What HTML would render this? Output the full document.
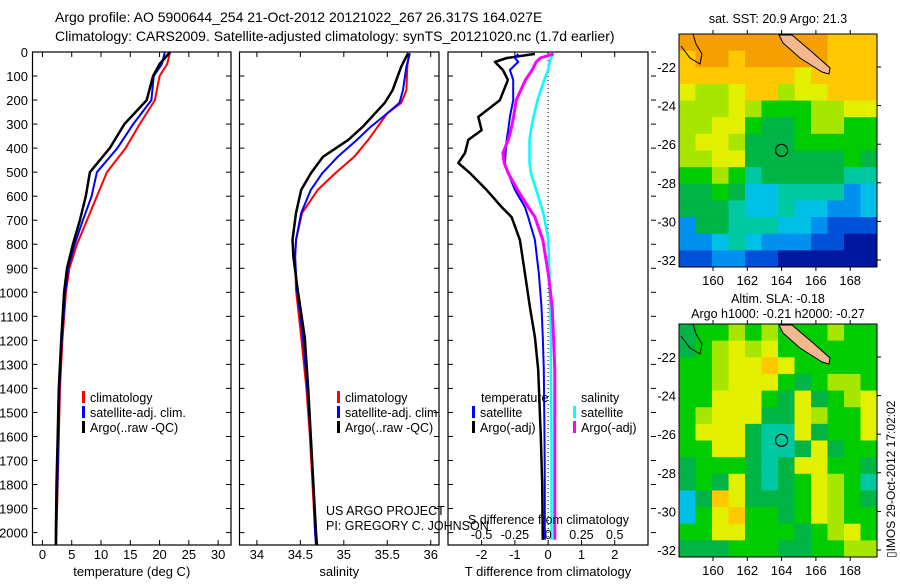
<!DOCTYPE html>
<html><head><meta charset="utf-8">
<style>
html,body{margin:0;padding:0;background:#fff;}
body{width:900px;height:580px;overflow:hidden;font-family:"Liberation Sans",sans-serif;}
svg text{font-family:"Liberation Sans",sans-serif;fill:#000;}
</style></head>
<body>
<svg id="chart" width="900" height="580" viewBox="0 0 900 580" xmlns="http://www.w3.org/2000/svg">
<text x="55" y="22" font-size="14">Argo profile: AO 5900644_254 21-Oct-2012 20121022_267 26.317S 164.027E</text>
<text x="55" y="41" font-size="14">Climatology: CARS2009. Satellite-adjusted climatology: synTS_20121020.nc (1.7d earlier)</text>
<g id="panels"></g>
<g id="maps"></g>
<text transform="translate(895,558) rotate(-90)" font-size="12">▯IMOS 29-Oct-2012 17:02:02</text>
</svg>
<script>
// ---------- data ----------
const depthTicks=[0,100,200,300,400,500,600,700,800,900,1000,1100,1200,1300,1400,1500,1600,1700,1800,1900,2000];
const tempTicks=[0,5,10,15,20,25,30];
const salTicks=[34,34.5,35,35.5,36];
const tdiffTicks=[-2,-1,0,1,2];
const sdiffTicks=[-0.5,-0.25,0,0.25,0.5];
const sdiffLabels=["-0.5","-0.25","0","0.25","0.5"];

const tDepth=[0,50,100,200,300,400,500,600,700,800,900,1000,1200,1400,1600,1800,2000,2050];
const tClim=[21.8,21.3,20.0,19.2,16.6,14.2,11.0,9.3,7.6,5.9,4.6,4.0,3.4,3.0,2.8,2.6,2.4,2.35];
const tSat=[20.9,20.4,19.0,18.6,15.5,12.8,9.3,8.4,6.9,5.5,4.4,3.9,3.3,2.9,2.75,2.55,2.35,2.3];
const tArgo=[21.8,20.0,18.9,17.8,14.0,11.5,8.1,7.4,6.4,5.2,4.2,3.7,3.2,2.8,2.6,2.4,2.3,2.3];

const sDepth=[5,61,160,212,255,311,366,436,505,574,670,782,853,990,1186,1400,1600,1800,2000,2050];
const sClim=[35.75,35.73,35.72,35.66,35.5,35.39,35.28,35.12,34.9,34.7,34.52,34.45,34.44,34.45,34.51,34.57,34.61,34.64,34.67,34.68];
const sSat=[35.76,35.72,35.68,35.64,35.5,35.31,35.15,34.93,34.75,34.62,34.51,34.45,34.44,34.46,34.53,34.58,34.62,34.65,34.67,34.68];
const sArgo=[35.74,35.66,35.56,35.47,35.36,35.22,35.05,34.76,34.62,34.51,34.45,34.41,34.42,34.47,34.55,34.59,34.62,34.65,34.68,34.69];

const dDepth=[8,25,41,75,116,200,270,325,366,420,462,504,574,645,687,782,920,1061,1186,1323,1600,1800,2030];
const dTArgo=[-0.4,-1.24,-1.6,-1.36,-1.21,-1.45,-2.1,-2.0,-2.4,-2.5,-2.7,-2.35,-1.85,-1.4,-1.1,-0.85,-0.7,-0.55,-0.4,-0.3,-0.22,-0.18,-0.16];
const dTSat=[-0.9,-1.0,-0.9,-1.15,-1.05,-1.05,-1.15,-1.2,-1.25,-1.28,-1.3,-1.2,-1.0,-0.7,-0.6,-0.4,-0.28,-0.2,-0.16,-0.13,-0.11,-0.1,-0.1];
const dSArgo=[0.04,-0.06,-0.09,-0.12,-0.17,-0.24,-0.26,-0.28,-0.30,-0.34,-0.33,-0.30,-0.23,-0.15,-0.1,-0.04,0.0,0.03,0.04,0.05,0.05,0.05,0.05];
const dSSat=[0.04,0.02,0.01,0.0,-0.03,-0.08,-0.11,-0.13,-0.14,-0.14,-0.14,-0.13,-0.09,-0.05,-0.03,0.0,0.01,0.015,0.02,0.02,0.025,0.025,0.025];

// map color grids (12 cols x 14 rows)
const sstGrid=["aaaaaaaaabbb","baabaaaaabbb","bbbbbbbcbbbb","cddcbbdccbbb","dddcdeeeddcc","ddcceffeddee","dccdfffeeeee","ddccffffffef","eedegfffffgg","ffefhhggggih","fffghhghhiih","iffggghhijjj","iihghiiijjkk","jjiijjkkkkkk"];
const slaGrid=["feededeeedee","fedcdceeeeee","eedccbceeeee","eedcccefedde","eecccefcfedc","edcccffcdeec","ecccfggcfeec","eeccfggfcfee","feeefgfcceef","fefcfgfecdeg","hfbcfffecdef","hecbeefecdee","eecceeefedce","fffeeeffeedd"];
const pal={a:"#f5a000",b:"#ffc800",c:"#e2f000",d:"#a6e600",e:"#00cc00",f:"#00b445",g:"#00c8a0",h:"#00c0e8",i:"#0090f0",j:"#0050d8",k:"#0018a0"};
const lonTicks=[160,162,164,166,168];
const latTicks=[22,24,26,28,30,32];

// ---------- helpers ----------
const NS="http://www.w3.org/2000/svg";
function mk(tag,attrs,parent){const e=document.createElementNS(NS,tag);for(const k in attrs)e.setAttribute(k,attrs[k]);parent.appendChild(e);return e;}
const Y0=52, YS=0.2403;
const yOf=d=>Y0+d*YS;
const panelsG=document.getElementById('panels');

function panel(name,x0,x1,xmin,xmax,xTicks,xLabels,xTitle,rightOut){
  const g=mk('g',{},panelsG);
  
  
  const fx=v=>x0+(v-xmin)/(xmax-xmin)*(x1-x0);
  const yB=545;
  const fr=mk('rect',{x:x0,y:Y0,width:x1-x0,height:yB-Y0,fill:'none',stroke:'#000','stroke-width':1.2},g);
  
  
  depthTicks.forEach(d=>{
    const y=yOf(d);
    mk('line',{x1:x0,x2:x0+5,y1:y,y2:y,stroke:'#000'},g);
    if(rightOut) mk('line',{x1:x1+3,x2:x1+8,y1:y,y2:y,stroke:'#000'},g);
    else mk('line',{x1:x1-5,x2:x1,y1:y,y2:y,stroke:'#000'},g);
  });
  xTicks.forEach((v,i)=>{
    const x=fx(v);
    mk('line',{x1:x,x2:x,y1:Y0,y2:Y0+5,stroke:'#000'},g);
    mk('line',{x1:x,x2:x,y1:yB-5,y2:yB,stroke:'#000'},g);
    const t=mk('text',{x:x,y:559,'font-size':13,'text-anchor':'middle'},g);
    t.textContent=xLabels[i];
    
    
  });
  const tt=mk('text',{x:(x0+x1)/2,y:576,'font-size':13,'text-anchor':'middle'},g);
  tt.textContent=xTitle;
  
  
  return {g,fx};
}
function series(p,name,depths,vals,color,w){
  const pts=depths.map((d,i)=>p.fx(vals[i]).toFixed(1)+','+yOf(d).toFixed(1)).join(' ');
  const l=mk('polyline',{points:pts,fill:'none',stroke:color,'stroke-width':w,'stroke-linejoin':'round'},p.g);
  
  
}
function legend(g,x,y,items,prefix){
  items.forEach((it,i)=>{
    const yy=y+i*15;
    if(it[1]){const r=mk('rect',{x:x,y:yy-6,width:3,height:12,fill:it[1]},g);
      
      }
    const t=mk('text',{x:x+(it[1]?8:0),y:yy+5,'font-size':12.5},g);
    t.textContent=it[0];
    
    
  });
}

// depth labels
depthTicks.forEach(d=>{
  const t=mk('text',{x:28,y:yOf(d)+5,'font-size':13,'text-anchor':'end'},panelsG);
  t.textContent=d;
  
  
});

// panel 1 temperature
const p1=panel('temperature-panel',32.5,231,-1.7,32.2,tempTicks,tempTicks.map(String),'temperature (deg C)',false);
series(p1,'temp-climatology-line',tDepth,tClim,'#ff0000',2);
series(p1,'temp-satellite-line',tDepth,tSat,'#0000ff',2);
series(p1,'temp-argo-line',tDepth,tArgo,'#000000',2.5);
legend(p1.g,82,397,[['climatology','#ff0000'],['satellite-adj. clim.','#0000ff'],['Argo(..raw -QC)','#000']],'temp');

// panel 2 salinity
const p2=panel('salinity-panel',239.5,439,33.8,36.095,salTicks,salTicks.map(String),'salinity',false);
series(p2,'sal-climatology-line',sDepth,sClim,'#ff0000',2);
series(p2,'sal-satellite-line',sDepth,sSat,'#0000ff',2);
series(p2,'sal-argo-line',sDepth,sArgo,'#000000',2.5);
legend(p2.g,337,397,[['climatology','#ff0000'],['satellite-adj. clim.','#0000ff'],['Argo(..raw -QC)','#000']],'sal');
const us=mk('text',{x:326,y:515,'font-size':12.5},p2.g);us.textContent='US ARGO PROJECT';


const pi=mk('text',{x:326,y:530,'font-size':12.5},p2.g);pi.textContent='PI: GREGORY C. JOHNSON';



// panel 3 differences
const p3=panel('difference-panel',448,648,-3.01,3.0,tdiffTicks,tdiffTicks.map(String),'T difference from climatology',true);
const zx=p3.fx(0);
mk('line',{x1:zx,x2:zx,y1:Y0,y2:545,stroke:'#000','stroke-dasharray':'1,3'},p3.g);
const fS=v=>v*4; // S diff shown on x4 scale
series(p3,'tdiff-argo-line',dDepth,dTArgo,'#000000',2.5);
series(p3,'tdiff-satellite-line',dDepth,dTSat,'#0000ff',2);
series(p3,'sdiff-satellite-line',dDepth,dSSat.map(fS),'#00ffff',2.5);
series(p3,'sdiff-argo-line',dDepth,dSArgo.map(fS),'#ff00ff',3);
legend(p3.g,481,397,[['temperature',null]],'tdiff');
legend(p3.g,472,412,[['satellite','#0000ff'],['Argo(-adj)','#000']],'tdiff');
legend(p3.g,581,397,[['salinity',null]],'sdiff');
legend(p3.g,573,412,[['satellite','#00ffff'],['Argo(-adj)','#ff00ff']],'sdiff');
const st=mk('text',{x:468,y:524,'font-size':12.5},p3.g);st.textContent='S difference from climatology';


sdiffTicks.forEach((v,i)=>{
  const t=mk('text',{x:p3.fx(fS(v)),y:539,'font-size':12.5,'text-anchor':'middle'},p3.g);
  t.textContent=sdiffLabels[i];
  
  
});

// ---------- maps ----------
const mapsG=document.getElementById('maps');
function drawMap(name,top,grid,title1,title2){
  const g=mk('g',{},mapsG);
  
  
  const x0=679,x1=877,y1=top+233;
  const lonX=l=>713+(l-160)/2*34.3;
  const latY=a=>top+33+(a-22)/2*38.6;
  const cols=grid[0].length, rows=grid.length;
  const cw=(x1-x0)/cols, ch=(y1-top)/rows;
  grid.forEach((row,r)=>{[...row].forEach((c,k)=>{
    const cell=mk('rect',{x:(x0+k*cw).toFixed(2),y:(top+r*ch).toFixed(2),width:(cw+0.5).toFixed(2),height:(ch+0.5).toFixed(2),fill:pal[c]},g);
    
    
  });});
  const land=mk('polygon',{points:`779,${top+1} 792,${top+1} 812,${top+18} 830,${top+34} 829,${top+40} 822,${top+38} 800,${top+24} 783,${top+9}`,fill:'#f4b890',stroke:'#000','stroke-width':1},g);
  
  
  const coast=mk('polyline',{points:`681,${top+12} 690,${top+24} 700,${top+30} 702,${top+20} 696,${top+10} 693,${top}`,fill:'none',stroke:'#000','stroke-width':1},g);
  
  
  const circ=mk('circle',{cx:lonX(164),cy:latY(26.317),r:6,fill:'none',stroke:'#000','stroke-width':1.2},g);
  
  
  mk('rect',{x:x0,y:top,width:x1-x0,height:y1-top,fill:'none',stroke:'#000','stroke-width':1},g);
  lonTicks.forEach(l=>{
    const x=lonX(l);
    mk('line',{x1:x,x2:x,y1:top-4,y2:top,stroke:'#000'},g);
    mk('line',{x1:x,x2:x,y1:y1,y2:y1+4,stroke:'#000'},g);
    const t=mk('text',{x:x,y:y1+18,'font-size':13,'text-anchor':'middle'},g);
    t.textContent=l;
    
    
  });
  latTicks.forEach(a=>{
    const y=latY(a);
    mk('line',{x1:x1,x2:x1+4,y1:y,y2:y,stroke:'#000'},g);
    const t=mk('text',{x:676,y:y+5,'font-size':13,'text-anchor':'end'},g);
    t.textContent='-'+a;
    
    
  });
  const t1=mk('text',{x:778,y:title2?top-21:top-11,'font-size':12.5,'text-anchor':'middle'},g);
  t1.textContent=title1;
  
  
  if(title2){const t2=mk('text',{x:778,y:top-6,'font-size':12.5,'text-anchor':'middle'},g);
    t2.textContent=title2;
    
    }
}
drawMap('sst-map',34,sstGrid,'sat. SST: 20.9 Argo: 21.3',null);
drawMap('sla-map',324,slaGrid,'Altim. SLA: -0.18','Argo h1000: -0.21 h2000: -0.27');
</script>
</body></html>
